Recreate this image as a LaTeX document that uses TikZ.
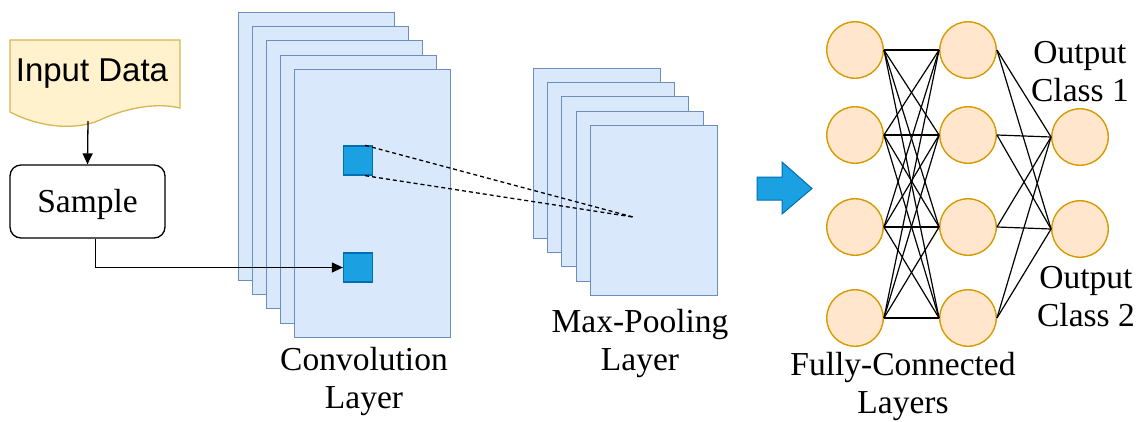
\documentclass[tikz,border=0pt]{standalone}
\usepackage{fontspec}
\setmainfont{Liberation Serif}
\newfontfamily\arialfont{Liberation Sans}
\usetikzlibrary{arrows.meta}
\definecolor{convfill}{HTML}{DAE8FC}
\definecolor{convstroke}{HTML}{6C8EBF}
\definecolor{bluefill}{HTML}{1BA1E2}
\definecolor{bluestroke}{HTML}{006EAF}
\definecolor{docfill}{HTML}{FFF2CC}
\definecolor{docstroke}{HTML}{D6B656}
\definecolor{neufill}{HTML}{FFE6CC}
\definecolor{neustroke}{HTML}{D79B00}
\begin{document}
\begin{tikzpicture}[x=1pt,y=-1pt,
  lbl/.style={font=\fontsize{33.5}{38}\selectfont, align=center, inner sep=0pt, anchor=north},
  convmap/.style={draw=convstroke, fill=convfill, line width=1.3pt, anchor=north west, inner sep=0pt, minimum width=156pt, minimum height=268pt},
  poolmap/.style={draw=convstroke, fill=convfill, line width=1.3pt, anchor=north west, inner sep=0pt, minimum width=127pt, minimum height=170pt},
  kernel/.style={draw=bluestroke, fill=bluefill, line width=1.3pt, inner sep=0pt, minimum size=29pt},
  neuron/.style={circle, draw=neustroke, fill=neufill, line width=1.4pt, inner sep=0pt, minimum size=56.5pt},
  conn/.style={line width=1.2pt, black},
  flow/.style={line width=1.3pt, black, -{Triangle[length=11pt,width=10pt]}},
  dashline/.style={line width=1.3pt, black, dash pattern=on 4pt off 3pt}
]
\useasboundingbox (0,0) rectangle (1138,421);

% Input data document
\draw[draw=docstroke, fill=docfill, line width=1.3pt]
  (10,40) -- (180,40) -- (180,108)
  .. controls (160,103) and (130,106) .. (100,120)
  .. controls (80,129) and (45,130) .. (10,112) -- cycle;
\node[font=\arialfont\fontsize{33}{38}\selectfont, inner sep=0pt, anchor=base] (input) at (92,81) {Input Data};
\coordinate (docb) at (88,121);

% Sample
\node[draw, rounded corners=11pt, line width=1.3pt, minimum width=155pt, minimum height=73pt, inner sep=0pt,
      text height=22pt, text depth=0pt,
      font=\fontsize{33.5}{38}\selectfont] (sample) at (87.5,201.5) {Sample};
\draw[flow] (docb) -- (sample.north);

% Convolution layer
\node[convmap] (c1) at (238,12) {};
\node[convmap] (c2) at (252,26) {};
\node[convmap] (c3) at (266,40) {};
\node[convmap] (c4) at (280,55) {};
\node[convmap] (c5) at (294,69) {};
\node[kernel] (sq1) at (358,160.5) {};
\node[kernel] (sq2) at (358,267.5) {};
\node[lbl] (convlbl) at (364,347) {Convolution\\Layer};

% Max pooling layer
\node[poolmap] (p1) at (533,68) {};
\node[poolmap] (p2) at (547,82) {};
\node[poolmap] (p3) at (561,96) {};
\node[poolmap] (p4) at (576,111) {};
\node[poolmap] (p5) at (590,125) {};
\coordinate (poolpt) at (633,217);
\node[lbl] (poollbl) at (640,309) {Max-Pooling\\Layer};

\draw[dashline] ([xshift=-8pt]sq1.north east) -- (poolpt);
\draw[dashline] ([xshift=-8pt]sq1.south east) -- (poolpt);

% Sample to kernel
\draw[flow] ([xshift=8pt]sample.south) |- (sq2.west);

% Big arrow
\draw[draw=bluestroke, fill=bluefill, line width=1pt]
  (757,177) -- (782,177) -- (782,162) -- (812,188.5) -- (782,214) -- (782,200) -- (757,200) -- cycle;

% Neurons
\foreach \i/\y in {1/50,2/135,3/227,4/318}{
  \node[neuron] (a\i) at (855,\y) {};
  \node[neuron] (b\i) at (968,\y) {};
}
\node[neuron] (o1) at (1080,137) {};
\node[neuron] (o2) at (1080,229) {};

\foreach \i in {1,...,4}{
  \foreach \j in {1,...,4}{
    \draw[conn] (a\i.east) -- (b\j.west);
  }
  \foreach \k in {1,2}{
    \draw[conn] (b\i.east) -- (o\k.west);
  }
}

\node[lbl] (fclbl) at (903,352) {Fully-Connected\\Layers};
\node[lbl] (out1) at (1080,41) {Output\\Class 1};
\node[lbl] (out2) at (1086,266) {Output\\Class 2};
\end{tikzpicture}
\end{document}
